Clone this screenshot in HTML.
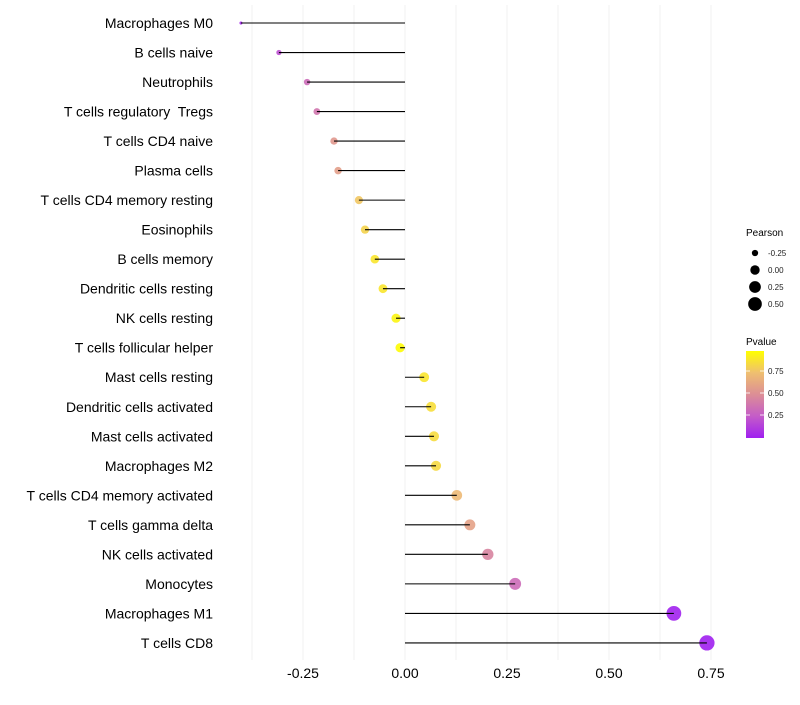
<!DOCTYPE html>
<html><head><meta charset="utf-8"><style>
body{margin:0;background:#fff;}
svg{font-family:"Liberation Sans",sans-serif;}
#ylabels text{white-space:pre;}
</style></head><body>
<svg width="800" height="700" viewBox="0 0 800 700">
<g id="grid"></g>
<g id="marks"></g>
<g id="ylabels"></g>
<g id="xlabels"></g>
<g id="legend">
<text x="746" y="236" font-size="10" fill="#000">Pearson</text>
<text x="746" y="345" font-size="10" fill="#000">Pvalue</text>
<defs><linearGradient id="pg" x1="0" y1="1" x2="0" y2="0">
<stop offset="0" stop-color="#A020F0"/><stop offset="0.25" stop-color="#C45CC8"/><stop offset="0.5" stop-color="#DC8E96"/><stop offset="0.75" stop-color="#EFBF70"/><stop offset="1" stop-color="#FFFF00"/></linearGradient></defs>
<rect x="746" y="351" width="18" height="87" fill="url(#pg)"/>
</g>
</svg>
<script>
const categories=["Macrophages M0","B cells naive","Neutrophils","T cells regulatory  Tregs","T cells CD4 naive","Plasma cells","T cells CD4 memory resting","Eosinophils","B cells memory","Dendritic cells resting","NK cells resting","T cells follicular helper","Mast cells resting","Dendritic cells activated","Mast cells activated","Macrophages M2","T cells CD4 memory activated","T cells gamma delta","NK cells activated","Monocytes","Macrophages M1","T cells CD8"];
const pearson=[-0.402,-0.309,-0.240,-0.216,-0.174,-0.164,-0.113,-0.098,-0.074,-0.054,-0.022,-0.012,0.047,0.064,0.071,0.076,0.127,0.159,0.203,0.270,0.659,0.740];
const pvalues=[0.03,0.2,0.33,0.38,0.55,0.58,0.78,0.83,0.9,0.9,0.96,0.99,0.9,0.87,0.86,0.85,0.72,0.6,0.45,0.33,0.01,0.001];
const xTicks=[-0.25,0,0.25,0.5,0.75];
const xTickLabels=["-0.25","0.00","0.25","0.50","0.75"];
const sizeLegend=[-0.25,0,0.25,0.5];
const sizeLegendLabels=["-0.25","0.00","0.25","0.50"];
const pTicks=[0.25,0.5,0.75];
const pTickLabels=["0.25","0.50","0.75"];

const NS="http://www.w3.org/2000/svg";
const x=v=>405+v*408;
const y=i=>23+i*29.52;
const r=v=>Math.sqrt(Math.max(1.8,2.5+49*(v+0.4)));
const stops=[[0,[160,32,240]],[0.25,[196,92,200]],[0.5,[220,142,150]],[0.75,[239,191,112]],[1,[255,255,0]]];
function col(p){for(let k=0;k<stops.length-1;k++){const a=stops[k],b=stops[k+1];if(p<=b[0]){const t=(p-a[0])/(b[0]-a[0]);return "rgb("+a[1].map((c,j)=>Math.round(c+(b[1][j]-c)*t)).join(",")+")";}}return "rgb(255,255,0)";}
function el(t,a,p){const e=document.createElementNS(NS,t);for(const k in a)e.setAttribute(k,a[k]);p.appendChild(e);return e;}
const grid=document.getElementById('grid'),marks=document.getElementById('marks'),yl=document.getElementById('ylabels'),xl=document.getElementById('xlabels'),lg=document.getElementById('legend');
for(let v=-0.375;v<=0.8;v+=0.125){const g=el('line',{x1:x(v),x2:x(v),y1:5,y2:660,stroke:'#f0f0f0','stroke-width':1},grid);

}
xTicks.forEach((v,i)=>{const t=el('text',{x:x(v),y:678,'font-size':14,'text-anchor':'middle',fill:'#000'},xl);t.textContent=xTickLabels[i];

});
categories.forEach((c,i)=>{
const t=el('text',{x:213,y:y(i)+5,'font-size':14,'text-anchor':'end',fill:'#000'},yl);t.textContent=c;


const d=el('circle',{cx:x(pearson[i]),cy:y(i),r:r(pearson[i]),fill:col(pvalues[i]),'fill-opacity':0.9},marks);


const s=el('line',{x1:x(0),x2:x(pearson[i]),y1:y(i),y2:y(i),stroke:'#000','stroke-width':1.1},marks);


});
sizeLegend.forEach((v,i)=>{const cy=253+i*17;
const c=el('circle',{cx:755,cy:cy,r:r(v),fill:'#000'},lg);


const t=el('text',{x:768,y:cy+3,'font-size':8,fill:'#222'},lg);t.textContent=sizeLegendLabels[i];

});
pTicks.forEach((p,i)=>{const cy=437-p*88;
el('line',{x1:746,x2:750,y1:cy,y2:cy,stroke:'#fff','stroke-width':0.8},lg);
el('line',{x1:760,x2:764,y1:cy,y2:cy,stroke:'#fff','stroke-width':0.8},lg);
const t=el('text',{x:768,y:cy+3,'font-size':8,fill:'#222'},lg);t.textContent=pTickLabels[i];

});
</script>
</body></html>
